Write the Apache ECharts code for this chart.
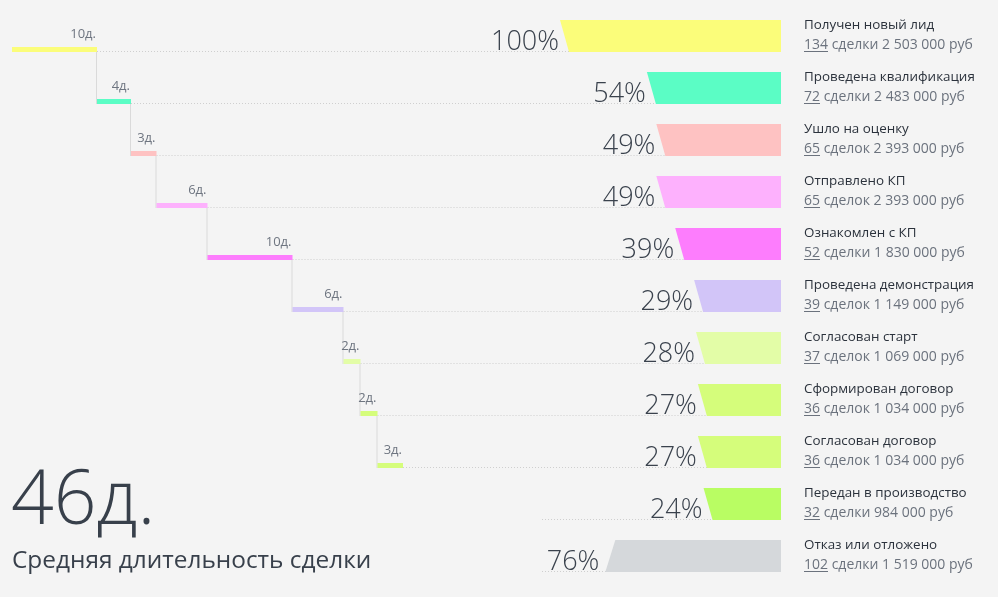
<!DOCTYPE html>
<html><head><meta charset="utf-8">
<script src="https://cdn.jsdelivr.net/npm/echarts@6/dist/echarts.min.js"></script>
<style>html,body{margin:0;padding:0;background:#f4f4f4}#c{width:998px;height:597px}</style>
</head><body><div id="c"></div>
<script>
// ---- data ----
const stages = ['Получен новый лид','Проведена квалификация','Ушло на оценку','Отправлено КП','Ознакомлен с КП','Проведена демонстрация','Согласован старт','Сформирован договор','Согласован договор','Передан в производство','Отказ или отложено'];
const percents = [100,54,49,49,39,29,28,27,27,24,76];
const dealCounts = [134,72,65,65,52,39,37,36,36,32,102];
const dealWords = ['сделки','сделки','сделок','сделок','сделки','сделок','сделок','сделок','сделок','сделки','сделки'];
const amounts = ['2 503 000','2 483 000','2 393 000','2 393 000','1 830 000','1 149 000','1 069 000','1 034 000','1 034 000','984 000','1 519 000'];
const stepDays = [10,4,3,6,10,6,2,2,3];
const colors = ['#fbfd7a','#5bfdc5','#fec2c2','#fdb1fd','#fd7dfd','#d2c5f8','#e3fda7','#d5fd7b','#d5fd7b','#b9fd63','#d5d8db'];
const avgLabel = 'Средняя длительность сделки';

// ---- derived ----
const totalDays = stepDays.reduce((a,b)=>a+b,0);
const stepData = [];
{ let c = 0; stepDays.forEach((d,i)=>{ stepData.push([c, c+d, i, d]); c += d; }); }

const BAR_H = 32, SLANT = 9;
const FONT = '"Open Sans", "Noto Sans", sans-serif';
const measureCtx = document.createElement('canvas').getContext('2d');
function textW(t, font){ measureCtx.font = font; return measureCtx.measureText(t).width; }

const chart = echarts.init(document.getElementById('c'));

function renderFunnel(params, api){
  const i = params.dataIndex;
  const p = api.value(0);
  const pt = api.coord([p, i]);
  const x = pt[0], top = pt[1], bot = top + BAR_H;
  const cs = params.coordSys;
  const right = cs.x + cs.width;
  const reversed = i === stages.length - 1;
  const pts = reversed
    ? [[x+SLANT+1, top],[right, top],[right, bot],[x, bot]]
    : [[x, top],[right, top],[right, bot],[x+SLANT, bot]];
  const subFont = '14px ' + FONT;
  const numW = textW(String(dealCounts[i]), subFont);
  const lx = right + 23;
  return {type:'group', children:[
    {type:'polygon', shape:{points:pts}, style:{fill:colors[i]}},
    {type:'text', x: x - (reversed ? 6 : 1), y: top + 22, style:{text: p + '%', align:'right', verticalAlign:'middle', font:'300 27px ' + FONT, fill:'#3a424d'}},
    {type:'text', x: lx, y: top + 5, style:{text: stages[i], verticalAlign:'middle', font:'13.4px ' + FONT, fill:'#2b323c'}},
    {type:'text', x: lx, y: top + 25, style:{text: dealCounts[i] + ' ' + dealWords[i] + ' ' + amounts[i] + ' руб', verticalAlign:'middle', font: subFont, fill:'#6b727d'}},
    {type:'line', shape:{x1: lx, y1: top + 31.5, x2: lx + numW, y2: top + 31.5}, style:{stroke:'#6b727d', lineWidth:1}}
  ]};
}

function renderSteps(params, api){
  const i = api.value(2);
  const a = api.coord([api.value(0), i]);
  const b = api.coord([api.value(1), i]);
  const bot = a[1] + BAR_H;
  const children = [
    {type:'rect', shape:{x:a[0], y:bot-5, width:b[0]-a[0], height:5}, style:{fill:colors[i]}},
    {type:'text', x: b[0] - 1, y: a[1] + 14, style:{text: api.value(3) + 'д.', align:'right', verticalAlign:'middle', font:'13px ' + FONT, fill:'#6e7580'}}
  ];
  if (i < stepDays.length - 1) {
    const nb = api.coord([api.value(1), i+1])[1] + BAR_H;
    children.push({type:'line', shape:{x1:b[0]-0.5, y1:bot, x2:b[0]-0.5, y2:nb}, style:{stroke:'#dadada', lineWidth:1}});
  }
  return {type:'group', children};
}

function renderGuides(params, api){
  const d = guideData[params.dataIndex];
  return {type:'line', shape:{x1:d[0], y1:d[2], x2:d[1], y2:d[2]}, style:{stroke:'#cfcfcf', lineWidth:1, lineDash:[1,2]}};
}
let guideData = [];

const option = {
  backgroundColor:'#f4f4f4',
  animation:false,
  grid:[
    {left:560, right:217, top:20, height:572},
    {left:12, width:391, top:20, height:572}
  ],
  xAxis:[
    {gridIndex:0, type:'value', min:-17, max:100, inverse:true, show:false},
    {gridIndex:1, type:'value', min:0, max:totalDays, show:false}
  ],
  yAxis:[
    {gridIndex:0, type:'value', min:0, max:stages.length, inverse:true, show:false},
    {gridIndex:1, type:'value', min:0, max:stages.length, inverse:true, show:false}
  ],
  graphic:[
    {type:'text', left:11, top:465, style:{text: totalDays + 'д.', font:'300 75px ' + FONT, fill:'#38404b'}},
    {type:'text', left:12, top:549, style:{text: avgLabel, font:'24.4px ' + FONT, fill:'#38404b'}}
  ],
  series:[
    {id:'guides', type:'custom', coordinateSystem:'none', renderItem:renderGuides, data:[], z:1, silent:true},
    {id:'steps', type:'custom', xAxisIndex:1, yAxisIndex:1, renderItem:renderSteps, data:stepData, z:2, silent:true},
    {id:'funnel', type:'custom', xAxisIndex:0, yAxisIndex:0, renderItem:renderFunnel, data:percents.map((p,i)=>[p,i]), z:3, silent:true}
  ]
};
chart.setOption(option);

// guides: from end of each step bar (or near funnel for rows without step) to funnel bar bottom-left
percents.forEach((p,i)=>{
  const endPt = chart.convertToPixel({xAxisIndex:0, yAxisIndex:0}, [p, i]);
  const y = endPt[1] + BAR_H - 0.5;
  let startX;
  if (i < stepData.length) startX = chart.convertToPixel({xAxisIndex:1, yAxisIndex:1}, [stepData[i][1], i])[0];
  else startX = chart.convertToPixel({xAxisIndex:0, yAxisIndex:0}, [100, i])[0] - 18;
  guideData.push([startX, endPt[0] + SLANT + 1, y]);
});
chart.setOption({series:[{id:'guides', data: guideData.map((d,i)=>i)}]});
</script></body></html>
